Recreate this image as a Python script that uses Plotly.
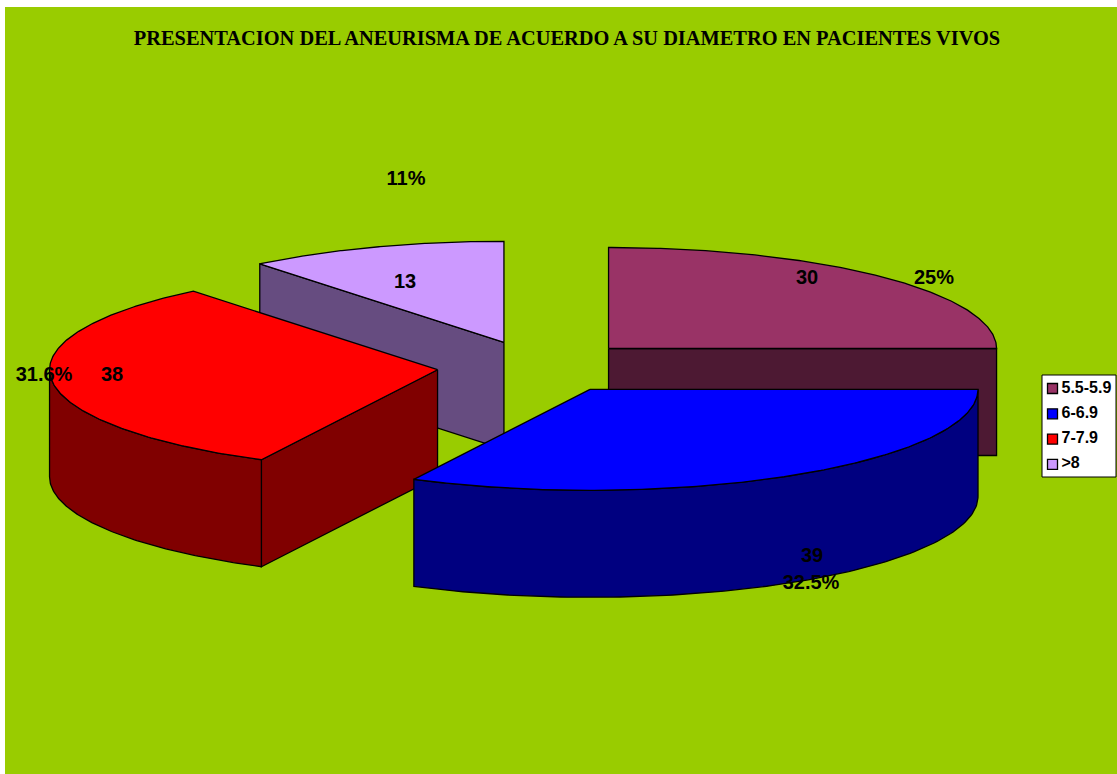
import numpy as np
import plotly.graph_objects as go

TITLE = "PRESENTACION DEL ANEURISMA DE ACUERDO A SU DIAMETRO EN PACIENTES VIVOS"
categories = ["5.5-5.9", "6-6.9", "7-7.9", ">8"]
counts = [30, 39, 38, 13]
percent_labels = ["25%", "32.5%", "31.6%", "11%"]
top_colors = ["#993366", "#0000FF", "#FF0000", "#CC99FF"]
side_colors = ["#4D1933", "#000080", "#800000", "#664C80"]

W, H = 1117, 774
CX, CY, RX, RY, DEPTH, EXPLODE = 537.5, 367, 388, 101, 107, 100.5
START = -90
LINE = dict(color="#000000", width=1.3)

# label anchor offsets (pixels)
count_pos = [(807, 279), (812, 557), (112, 376), (405, 283)]
pct_pos = [(934, 279), (811, 584), (44, 376), (406, 180)]

fig = go.Figure()
total = sum(counts)
edges = START + np.concatenate([[0], np.cumsum(counts)]) / total * 360


def pt(c, ang):
    a = np.radians(ang)
    return c[0] + RX * np.cos(a), c[1] + RY * np.sin(a)


def poly(xs, ys, color):
    xs, ys = list(xs), list(ys)
    fig.add_trace(go.Scatter(x=xs + xs[:1], y=ys + ys[:1], mode="lines", fill="toself",
                             fillcolor=color, line=LINE, showlegend=False, hoverinfo="skip"))


def face(c, ang, color):
    x, y = pt(c, ang)
    poly([c[0], x, x, c[0]], [c[1], y, y + DEPTH, c[1] + DEPTH], color)


def wedge(i):
    a0, a1 = edges[i], edges[i + 1]
    mid = np.radians((a0 + a1) / 2)
    c = (CX + EXPLODE * np.cos(mid), CY + EXPLODE * RY / RX * np.sin(mid))
    if np.cos(np.radians(a0)) < -1e-9:
        face(c, a0, side_colors[i])
    if np.cos(np.radians(a1)) > 1e-9:
        face(c, a1, side_colors[i])
    # outer rim, only the front half of the ellipse is visible
    lo, hi = max(a0, 0), min(a1, 180)
    if hi > lo:
        t = np.linspace(lo, hi, 120)
        x, y = pt(c, t)
        poly(np.r_[x, x[::-1]], np.r_[y, y[::-1] + DEPTH], side_colors[i])
    t = np.linspace(a0, a1, 200)
    x, y = pt(c, t)
    poly(np.r_[c[0], x], np.r_[c[1], y], top_colors[i])


for i in [0, 3, 2, 1]:
    wedge(i)

label_font = dict(family="Liberation Sans, Arial, sans-serif", size=20, color="#000000")
fig.add_trace(go.Scatter(x=[p[0] for p in count_pos], y=[p[1] for p in count_pos], text=[str(v) for v in counts],
                         mode="text", textfont=label_font, texttemplate="<b>%{text}</b>",
                         showlegend=False, hoverinfo="skip"))
fig.add_trace(go.Scatter(x=[p[0] for p in pct_pos], y=[p[1] for p in pct_pos], text=percent_labels,
                         mode="text", textfont=label_font, texttemplate="<b>%{text}</b>",
                         showlegend=False, hoverinfo="skip"))

# legend
LEG_X0, LEG_X1, LEG_Y0, LEG_Y1 = 1042, 1116, 375, 477
leg_y = LEG_Y0 + 13.5 + np.arange(len(categories)) * 25.3
fig.add_trace(go.Scatter(x=[1052.5] * len(categories), y=leg_y, mode="markers",
                         marker=dict(symbol="square", size=10, color=top_colors, line=dict(color="#000000", width=1.3)),
                         showlegend=False, hoverinfo="skip"))
fig.add_trace(go.Scatter(x=[1061.5] * len(categories), y=leg_y, mode="text", text=categories,
                         textposition="middle right", texttemplate="<b>%{text}</b>",
                         textfont=dict(family="Liberation Sans, Arial, sans-serif", size=16, color="#000000"),
                         showlegend=False, hoverinfo="skip"))

fig.update_layout(
    width=W, height=H, autosize=False,
    margin=dict(l=0, r=0, t=0, b=0),
    paper_bgcolor="#FFFFFF", plot_bgcolor="rgba(0,0,0,0)",
    xaxis=dict(range=[0, W], visible=False, fixedrange=True),
    yaxis=dict(range=[H, 0], visible=False, fixedrange=True),
    showlegend=False,
    title=dict(text="<b>" + TITLE + "</b>", x=567 / W, y=1 - 38 / H, xanchor="center", yanchor="middle",
               font=dict(family="Liberation Serif, Times New Roman, serif", size=20.4, color="#000000")),
    shapes=[
        dict(type="rect", layer="below", x0=5, x1=W + 2, y0=7, y1=H + 2, fillcolor="#99CC00", line=dict(width=0)),
        dict(type="rect", layer="below", x0=LEG_X0, x1=LEG_X1, y0=LEG_Y0, y1=LEG_Y1, fillcolor="#FFFFFF",
             line=dict(color="#000000", width=1)),
    ],
)
fig.write_html("out.html", config={"displayModeBar": False},
               post_script="document.body.style.margin='0';document.documentElement.style.overflow='hidden';")
